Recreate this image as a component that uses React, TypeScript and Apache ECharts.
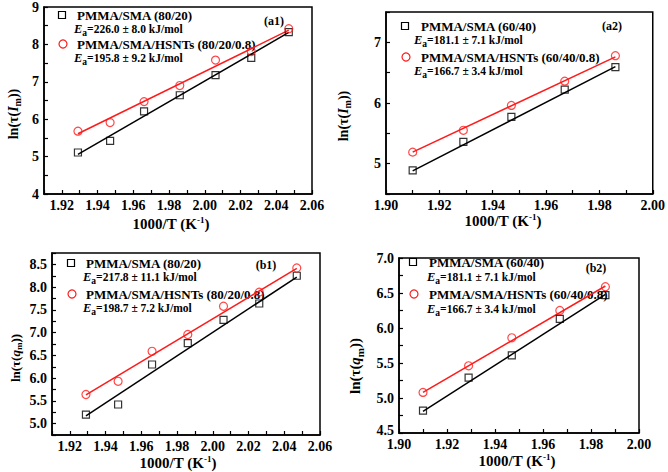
import React, { useEffect, useRef } from 'react';
import * as echarts from 'echarts';

// ---------- data ----------
const xSeven = [1.929, 1.947, 1.966, 1.986, 2.006, 2.026, 2.047];
const xFive = [1.910, 1.929, 1.947, 1.967, 1.986];

const a1Sma = [5.11, 5.42, 6.21, 6.64, 7.18, 7.64, 8.33];
const a1Hsnt = [5.68, 5.91, 6.47, 6.90, 7.58, 7.81, 8.42];
const a1SmaFit = [5.06, 8.32];
const a1HsntFit = [5.61, 8.38];

const a2Sma = [4.89, 5.36, 5.77, 6.22, 6.59];
const a2Hsnt = [5.19, 5.55, 5.96, 6.36, 6.78];
const a2SmaFit = [4.88, 6.60];
const a2HsntFit = [5.19, 6.76];

const b1Sma = [5.20, 5.42, 6.30, 6.77, 7.28, 7.64, 8.25];
const b1Hsnt = [5.64, 5.93, 6.59, 6.96, 7.58, 7.89, 8.42];
const b1SmaFit = [5.17, 8.22];
const b1HsntFit = [5.63, 8.41];

const b2Sma = [4.82, 5.29, 5.61, 6.13, 6.47];
const b2Hsnt = [5.08, 5.46, 5.86, 6.25, 6.59];
const b2SmaFit = [4.81, 6.48];
const b2HsntFit = [5.08, 6.60];

const legendA1 = ['PMMA/SMA (80/20)', '=226.0 ± 8.0 kJ/mol', 'PMMA/SMA/HSNTs (80/20/0.8)', '=195.8 ± 9.2 kJ/mol', '(a1)'];
const legendA2 = ['PMMA/SMA (60/40)', '=181.1 ± 7.1 kJ/mol', 'PMMA/SMA/HSNTs (60/40/0.8)', '=166.7 ± 3.4 kJ/mol', '(a2)'];
const legendB1 = ['PMMA/SMA (80/20)', '=217.8 ± 11.1 kJ/mol', 'PMMA/SMA/HSNTs (80/20/0.8)', '=198.7 ± 7.2 kJ/mol', '(b1)'];
const legendB2 = ['PMMA/SMA (60/40)', '=181.1 ± 7.1 kJ/mol', 'PMMA/SMA/HSNTs (60/40/0.8)', '=166.7 ± 3.4 kJ/mol', '(b2)'];

// ---------- styling ----------
const serif = "'Liberation Serif', 'Times New Roman', serif";
const RED = '#ff1a1a';

const panels = [
  {
    grid: { left: 44, top: 6, width: 268, height: 188 },
    x: { min: 1.91, max: 2.06, interval: 0.01, even: true },
    y: { min: 4, max: 9, interval: 1, minor: true, fmt: (v: number) => String(Math.round(v)) },
    xs: xSeven, sma: a1Sma, hsnt: a1Hsnt, smaFit: a1SmaFit, hsntFit: a1HsntFit,
    legend: legendA1,
    lg: { mx: 62, tx: 77, ex: 74, y: [15, 29, 44, 58], tag: [274, 21] },
    ytitle: { x: 13, y: 114, v: 'I', size: 14 },
    xtitle: { x: 171, y: 224 },
  },
  {
    grid: { left: 386, top: 12, width: 267, height: 182 },
    x: { min: 1.90, max: 2.00, interval: 0.02, even: false },
    y: { min: 4.5, max: 7.5, interval: 0.5, minor: false, fmt: (v: number) => (Math.abs(v - Math.round(v)) < 1e-6 ? String(Math.round(v)) : '') },
    xs: xFive, sma: a2Sma, hsnt: a2Hsnt, smaFit: a2SmaFit, hsntFit: a2HsntFit,
    legend: legendA2,
    lg: { mx: 405, tx: 421, ex: 414, y: [26, 40, 57, 71], tag: [612, 26] },
    ytitle: { x: 343, y: 116, v: 'I', size: 14 },
    xtitle: { x: 503, y: 221 },
  },
  {
    grid: { left: 52, top: 253, width: 268, height: 182 },
    x: { min: 1.91, max: 2.06, interval: 0.01, even: true },
    y: { min: 4.75, max: 8.75, interval: 0.25, minor: false, fmt: (v: number) => (Math.abs(v * 2 - Math.round(v * 2)) < 1e-6 ? v.toFixed(1) : '') },
    xs: xSeven, sma: b1Sma, hsnt: b1Hsnt, smaFit: b1SmaFit, hsntFit: b1HsntFit,
    legend: legendB1,
    lg: { mx: 71, tx: 86, ex: 83, y: [263, 277, 294, 308], tag: [266, 265] },
    ytitle: { x: 15, y: 358, v: 'q', size: 13 },
    xtitle: { x: 178, y: 463 },
  },
  {
    grid: { left: 399, top: 258, width: 240, height: 175 },
    x: { min: 1.90, max: 2.00, interval: 0.02, even: false },
    y: { min: 4.5, max: 7.0, interval: 0.5, minor: true, fmt: (v: number) => (v < 4.6 ? '{low|' + v.toFixed(1) + '}' : v.toFixed(1)) },
    xs: xFive, sma: b2Sma, hsnt: b2Hsnt, smaFit: b2SmaFit, hsntFit: b2HsntFit,
    legend: legendB2,
    lg: { mx: 413, tx: 429, ex: 427, y: [262, 277, 294, 309], tag: [596, 268] },
    ytitle: { x: 355, y: 366, v: 'q', size: 15 },
    xtitle: { x: 517, y: 461 },
  },
];

const baseFont = { fontFamily: serif, fontWeight: 'bold' as const, fill: '#000' };

function buildOption() {
  const grids: any[] = [];
  const xAxes: any[] = [];
  const yAxes: any[] = [];
  const series: any[] = [];
  const graphics: any[] = [];

  panels.forEach((p, i) => {
    grids.push({ ...p.grid, show: true, borderColor: '#000', borderWidth: 1.5, containLabel: false });
    const tickStyle = { color: '#000', width: 1.2 };
    xAxes.push({
      type: 'value', gridIndex: i, min: p.x.min, max: p.x.max, interval: p.x.interval,
      axisLine: { show: true, onZero: false, lineStyle: { color: '#000', width: 1.5 } },
      axisTick: { show: true, inside: true, length: 4, lineStyle: tickStyle },
      minorTick: { show: !p.x.even, splitNumber: 2, length: 4, lineStyle: tickStyle },
      splitLine: { show: false },
      axisLabel: {
        color: '#000', fontFamily: serif, fontWeight: 'bold', fontSize: 14, margin: 4,
        showMinLabel: true, showMaxLabel: true, interval: 0,
        formatter: (v: number) => {
          if (p.x.even) {
            return Math.round(v * 100) % 2 === 0 ? v.toFixed(2) : '';
          }
          return v.toFixed(2);
        },
      },
    });
    yAxes.push({
      type: 'value', gridIndex: i, min: p.y.min, max: p.y.max, interval: p.y.interval,
      axisLine: { show: true, onZero: false, lineStyle: { color: '#000', width: 1.5 } },
      axisTick: { show: true, inside: true, length: 4, lineStyle: tickStyle },
      minorTick: { show: p.y.minor, splitNumber: 2, length: 4, lineStyle: tickStyle },
      splitLine: { show: false },
      axisLabel: {
        color: '#000', fontFamily: serif, fontWeight: 'bold', fontSize: 14, margin: 5,
        showMinLabel: true, showMaxLabel: true, interval: 0,
        formatter: p.y.fmt,
        rich: { low: { color: '#000', fontFamily: serif, fontWeight: 'bold', fontSize: 14, padding: [0, 0, 6, 0] } },
      },
    });
    const xsFit = [p.xs[0], p.xs[p.xs.length - 1]];
    series.push({
      type: 'line', xAxisIndex: i, yAxisIndex: i, showSymbol: false, symbol: 'none',
      data: xsFit.map((x, k) => [x, p.smaFit[k]]), lineStyle: { color: '#000', width: 1.5 }, z: 2,
    });
    series.push({
      type: 'line', xAxisIndex: i, yAxisIndex: i, showSymbol: false, symbol: 'none',
      data: xsFit.map((x, k) => [x, p.hsntFit[k]]), lineStyle: { color: RED, width: 1.5 }, z: 2,
    });
    series.push({
      type: 'scatter', xAxisIndex: i, yAxisIndex: i, symbol: 'rect', symbolSize: 7,
      data: p.xs.map((x, k) => [x, p.sma[k]]),
      itemStyle: { color: 'rgba(255,255,255,0)', borderColor: '#000', borderWidth: 1.2 }, z: 3,
    });
    series.push({
      type: 'scatter', xAxisIndex: i, yAxisIndex: i, symbol: 'circle', symbolSize: 8,
      data: p.xs.map((x, k) => [x, p.hsnt[k]]),
      itemStyle: { color: 'rgba(255,255,255,0)', borderColor: RED, borderWidth: 1.2 }, z: 3,
    });

    // legend markers
    graphics.push({
      type: 'rect', shape: { x: p.lg.mx - 3.5, y: p.lg.y[0] - 3.5, width: 7, height: 7 },
      style: { fill: 'none', stroke: '#000', lineWidth: 1.2 },
    });
    graphics.push({
      type: 'circle', shape: { cx: p.lg.mx + 1, cy: p.lg.y[2], r: 4 },
      style: { fill: 'none', stroke: RED, lineWidth: 1.2 },
    });
    const nameFs = 13;
    const eaFs = 11.5;
    const rich = {
      i: { ...baseFont, fontSize: eaFs + 1, fontStyle: 'italic' },
      s: { ...baseFont, fontSize: 9.5, padding: [8, 0, 0, 0] },
    };
    graphics.push({ type: 'text', x: p.lg.tx, y: p.lg.y[0], style: { ...baseFont, fontSize: nameFs, text: p.legend[0], verticalAlign: 'middle' } });
    graphics.push({ type: 'text', x: p.lg.ex, y: p.lg.y[1], style: { ...baseFont, fontSize: eaFs, text: '{i|E}{s|a}' + p.legend[1], rich, verticalAlign: 'middle' } });
    graphics.push({ type: 'text', x: p.lg.tx, y: p.lg.y[2], style: { ...baseFont, fontSize: nameFs, text: p.legend[2], verticalAlign: 'middle' } });
    graphics.push({ type: 'text', x: p.lg.ex, y: p.lg.y[3], style: { ...baseFont, fontSize: eaFs, text: '{i|E}{s|a}' + p.legend[3], rich, verticalAlign: 'middle' } });
    graphics.push({ type: 'text', x: p.lg.tag[0], y: p.lg.tag[1], style: { ...baseFont, fontSize: 12, text: p.legend[4], align: 'center', verticalAlign: 'middle' } });

    // axis titles
    graphics.push({
      type: 'text', x: p.xtitle.x, y: p.xtitle.y,
      style: {
        ...baseFont, fontSize: 15, text: '1000/T (K{sup|-1})', align: 'center', verticalAlign: 'middle',
        rich: { sup: { ...baseFont, fontSize: 9, padding: [0, 0, 8, 0] } },
      },
    });
    const ys = p.ytitle.size;
    graphics.push({
      type: 'text', x: p.ytitle.x, y: p.ytitle.y, rotation: Math.PI / 2,
      style: {
        ...baseFont, fontSize: ys, text: 'ln(τ({i|' + p.ytitle.v + '}{s|m}))', align: 'center', verticalAlign: 'middle',
        rich: {
          i: { ...baseFont, fontSize: ys, fontStyle: 'italic' },
          s: { ...baseFont, fontSize: Math.round(ys * 0.7), padding: [Math.round(ys * 0.6), 0, 0, 0] },
        },
      },
    });
  });

  return {
    animation: false,
    backgroundColor: '#fff',
    grid: grids,
    xAxis: xAxes,
    yAxis: yAxes,
    series,
    graphic: graphics,
  };
}

export default function App() {
  const ref = useRef<HTMLDivElement>(null);
  useEffect(() => {
    if (!ref.current) return;
    const chart = echarts.init(ref.current, undefined, { renderer: 'svg' });
    chart.setOption(buildOption() as any);
    return () => chart.dispose();
  }, []);
  return <div ref={ref} style={{ position: 'fixed', left: 0, top: 0, width: 668, height: 472, background: '#fff' }} />;
}
